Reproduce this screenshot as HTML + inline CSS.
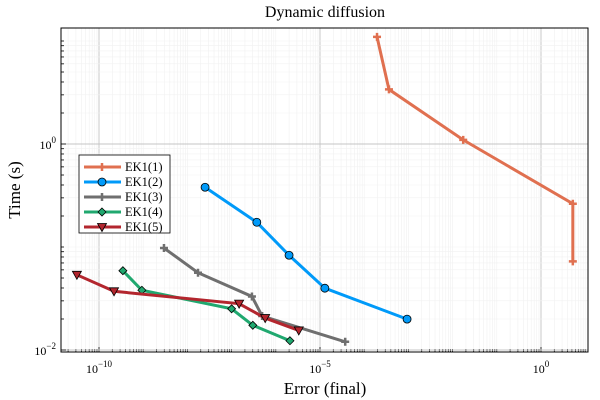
<!DOCTYPE html>
<html><head><meta charset="utf-8"><style>
body{margin:0;background:#fff}
svg{display:block;font-family:"Liberation Serif",serif}
</style></head><body>
<svg id="chart" width="600" height="400"></svg>
<script>
const seriesNames=["EK1(1)","EK1(2)","EK1(3)","EK1(4)","EK1(5)"];
const errEK1=[-3.71,-3.44,-1.76,0.72,0.72];
const timeEK1=[1.04,0.53,0.04,-0.58,-1.14];
const errEK2=[-7.60,-6.43,-5.70,-4.89,-3.03];
const timeEK2=[-0.42,-0.76,-1.08,-1.40,-1.70];
const errEK3=[-8.53,-7.76,-6.54,-6.31,-4.43];
const timeEK3=[-1.01,-1.25,-1.48,-1.67,-1.92];
const errEK4=[-9.46,-9.03,-7.0,-6.52,-5.68];
const timeEK4=[-1.23,-1.42,-1.60,-1.76,-1.91];
const errEK5=[-10.50,-9.66,-6.83,-6.24,-5.48];
const timeEK5=[-1.27,-1.43,-1.55,-1.69,-1.81];
const xTicks=[-10,-5,0];
const yTicks=[-2,0];

const NS="http://www.w3.org/2000/svg";
const svg=document.getElementById('chart');
const L=61,R=588,T=28,B=352;
const X=v=>99+(v+10)*44.2;
const Y=v=>144-v*103;
function el(tag,attrs,parent){const e=document.createElementNS(NS,tag);for(const k in attrs)e.setAttribute(k,attrs[k]);(parent||svg).appendChild(e);return e;}

const grid=el('g',{});


for(let d=-11;d<=1;d++){for(let m=1;m<=9;m++){const v=d+Math.log10(m);const x=X(v);if(x<L||x>R)continue;
 const major=m==1&&xTicks.includes(d);
 el('line',{x1:x,x2:x,y1:T,y2:B,stroke:major?'#c4c4c4':'#f1f1f1','stroke-width':major?0.9:0.6},grid);
 el('line',{x1:x,x2:x,y1:B,y2:B-(major?5:3),stroke:'#000','stroke-width':0.8},grid);}}
for(let d=-3;d<=1;d++){for(let m=1;m<=9;m++){const v=d+Math.log10(m);const y=Y(v);if(y<T||y>B)continue;
 const major=m==1&&yTicks.includes(d);
 el('line',{x1:L,x2:R,y1:y,y2:y,stroke:major?'#c4c4c4':'#f1f1f1','stroke-width':major?0.9:0.6},grid);
 el('line',{x1:L,x2:L+(major?5:3),y1:y,y2:y,stroke:'#000','stroke-width':0.8},grid);}}
const frame=el('rect',{x:L,y:T,width:R-L,height:B-T,fill:'none',stroke:'#000','stroke-width':1});



xTicks.forEach(t=>{const tx=el('text',{x:X(t),y:373,'text-anchor':'middle','font-size':12});
 
 
 tx.innerHTML='10<tspan dy="-6" font-size="9">'+(t<0?'−'+(-t):t)+'</tspan>';});
yTicks.forEach(t=>{const tx=el('text',{x:56,y:Y(t)+5,'text-anchor':'end','font-size':12});
 
 
 tx.innerHTML='10<tspan dy="-6" font-size="9">'+(t<0?'−'+(-t):t)+'</tspan>';});

const title=el('text',{x:325,y:17,'text-anchor':'middle','font-size':16});title.textContent='Dynamic diffusion';


const xt=el('text',{x:325,y:394,'text-anchor':'middle','font-size':17});xt.textContent='Error (final)';


const yt=el('text',{x:0,y:0,'text-anchor':'middle','font-size':17,transform:'translate(20,190) rotate(-90)'});yt.textContent='Time (s)';



const colors=['#e07050','#009af9','#6f6f6f','#20a86f','#b3262e'];
const markers=['plus','circle','plus','diamond','tri'];
const xs=[errEK1,errEK2,errEK3,errEK4,errEK5], ys=[timeEK1,timeEK2,timeEK3,timeEK4,timeEK5];
function marker(type,x,y,c,g){
 if(type=='plus'){el('path',{d:`M${x-4},${y}H${x+4}M${x},${y-4}V${y+4}`,stroke:c,'stroke-width':2.5},g);}
 else if(type=='circle'){el('circle',{cx:x,cy:y,r:4,fill:c,stroke:'#000','stroke-width':0.8},g);}
 else if(type=='diamond'){el('path',{d:`M${x},${y-4}L${x+4},${y}L${x},${y+4}L${x-4},${y}Z`,fill:c,stroke:'#000','stroke-width':0.8},g);}
 else {el('path',{d:`M${x-4.5},${y-3.5}L${x+4.5},${y-3.5}L${x},${y+4.5}Z`,fill:c,stroke:'#000','stroke-width':0.8},g);}
}
for(let s=0;s<5;s++){
 const g=el('g',{});
 
 
 const pts=xs[s].map((v,i)=>X(v)+','+Y(ys[s][i])).join(' ');
 el('polyline',{points:pts,fill:'none',stroke:colors[s],'stroke-width':3},g);
 xs[s].forEach((v,i)=>marker(markers[s],X(v),Y(ys[s][i]),colors[s],g));
}
const lg=el('g',{});


el('rect',{x:79,y:155,width:91,height:78,fill:'#fff',stroke:'#000','stroke-width':0.8},lg);
for(let s=0;s<5;s++){
 const y=167+s*15;
 const e=el('g',{},lg);
 
 
 el('line',{x1:84,x2:121,y1:y,y2:y,stroke:colors[s],'stroke-width':3},e);
 marker(markers[s],102,y,colors[s],e);
 const t=el('text',{x:125,y:y+4,'font-size':12.5},e);t.textContent=seriesNames[s];
}
</script>
</body></html>
